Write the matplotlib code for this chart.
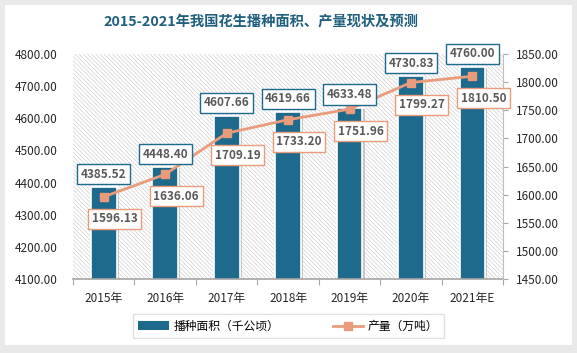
import numpy as np
import matplotlib
matplotlib.use('Agg')
from matplotlib import pyplot as plt
from matplotlib.patches import Rectangle
from matplotlib.lines import Line2D
from matplotlib.patches import Patch
import matplotlib.patheffects as pe

plt.rcParams['font.family'] = ['Noto Sans CJK SC', 'DejaVu Sans']
plt.rcParams['hatch.linewidth'] = 0.5
plt.rcParams['hatch.color'] = '#d0d0d0'

years = ['2015年', '2016年', '2017年', '2018年', '2019年', '2020年', '2021年E']
area = [4385.52, 4448.40, 4607.66, 4619.66, 4633.48, 4730.83, 4760.00]     # 千公顷
output = [1596.13, 1636.06, 1709.19, 1733.20, 1751.96, 1799.27, 1810.50]  # 万吨

bar_color = '#1d6a8c'
line_color = '#e99b7b'
title_color = '#1f5f7f'
label_color = '#595959'

fig = plt.figure(figsize=(5.77, 3.53), dpi=100)
fig.patch.set_facecolor('#e9e9e9')
# white panel with a gray border / shadow
fig.patches.append(Rectangle((0.009, 0.023), 0.982, 0.963, transform=fig.transFigure,
                             facecolor='white', edgecolor='none', zorder=-5))

ax = fig.add_axes([0.1265, 0.2096, 0.7455, 0.6374])
ax.set_facecolor('none')
x = np.arange(len(years))

# hatched plot area
ax.add_patch(Rectangle((0, 0), 1, 1, transform=ax.transAxes, facecolor='white',
                       edgecolor='#d0d0d0', hatch='\\' * 8, linewidth=0, zorder=0))

bars = ax.bar(x, area, width=0.42, color=bar_color, edgecolor='white', linewidth=1.2, zorder=2)
for b in bars:
    b.set_path_effects([pe.SimplePatchShadow(offset=(1.5, -1), shadow_rgbFace='#888888', alpha=0.4),
                        pe.Normal()])
ax.set_ylim(4100, 4800)
ax.set_xlim(-0.5, len(years) - 0.5)
ax.set_yticks(np.arange(4100, 4801, 100))
ax.set_yticklabels(['%.2f' % v for v in np.arange(4100, 4801, 100)], fontsize=8.5, color='#262626')
ax.tick_params(axis='y', length=0, pad=11)
ax.set_xticks(np.arange(-0.5, len(years), 1))
ax.set_xticklabels([])
ax.set_xticks(x, minor=True)
ax.set_xticklabels(years, minor=True, fontsize=8.5, color='#262626')
ax.tick_params(axis='x', which='major', length=4, color='#a6a6a6', direction='out')
ax.tick_params(axis='x', which='minor', length=0, pad=9)
for s in ['top', 'left', 'right']:
    ax.spines[s].set_visible(False)
ax.spines['bottom'].set_color('#a6a6a6')
ax.spines['bottom'].set_linewidth(1.2)

ax2 = ax.twinx()
ax2.plot(x, output, color=line_color, linewidth=2, marker='s', markersize=6, zorder=5)
ax2.set_ylim(1450, 1850)
ax2.set_yticks(np.arange(1450, 1851, 50))
ax2.set_yticklabels(['%.2f' % v for v in np.arange(1450, 1851, 50)], fontsize=8.5, color='#262626')
ax2.tick_params(axis='y', length=3.5, color='#a6a6a6', direction='out', pad=6)
for s in ['top', 'left', 'bottom']:
    ax2.spines[s].set_visible(False)
ax2.spines['right'].set_color('#bfbfbf')

for i, v in enumerate(area):
    ax2.annotate('%.2f' % v, xy=(x[i], v), xycoords=ax.transData, xytext=(0, 13),
                 textcoords='offset pixels', ha='center', va='center', fontsize=8.5,
                 fontweight='bold', color=label_color,
                 bbox=dict(boxstyle='square,pad=0.3', facecolor='white', edgecolor=bar_color, linewidth=1),
                 zorder=6, annotation_clip=False)
for i, v in enumerate(output):
    ax2.annotate('%.2f' % v, xy=(x[i], v), xytext=(11, -22), textcoords='offset pixels',
                 ha='center', va='center', fontsize=8.5, fontweight='bold', color=label_color,
                 bbox=dict(boxstyle='square,pad=0.3', facecolor='white', edgecolor=line_color, linewidth=1),
                 zorder=7, annotation_clip=False)

fig.text(0.452, 0.937, '2015-2021年我国花生播种面积、产量现状及预测', ha='center', va='center',
         fontsize=10.3, fontweight='bold', color=title_color)

handles = [Patch(facecolor=bar_color, edgecolor='none'),
           Line2D([0], [0], color=line_color, linewidth=2, marker='s', markersize=6)]
leg = fig.legend(handles, ['播种面积（千公顷）', '产量（万吨）'], loc='center',
                 bbox_to_anchor=(0.5, 0.076), ncol=2, fontsize=8.5, frameon=True,
                 fancybox=False, edgecolor='#d9d9d9', handlelength=2.6, handletextpad=0.4,
                 columnspacing=4.5, borderpad=0.45, borderaxespad=0)
leg.get_frame().set_linewidth(1)

fig.savefig('out.png', dpi=100, facecolor=fig.get_facecolor())
